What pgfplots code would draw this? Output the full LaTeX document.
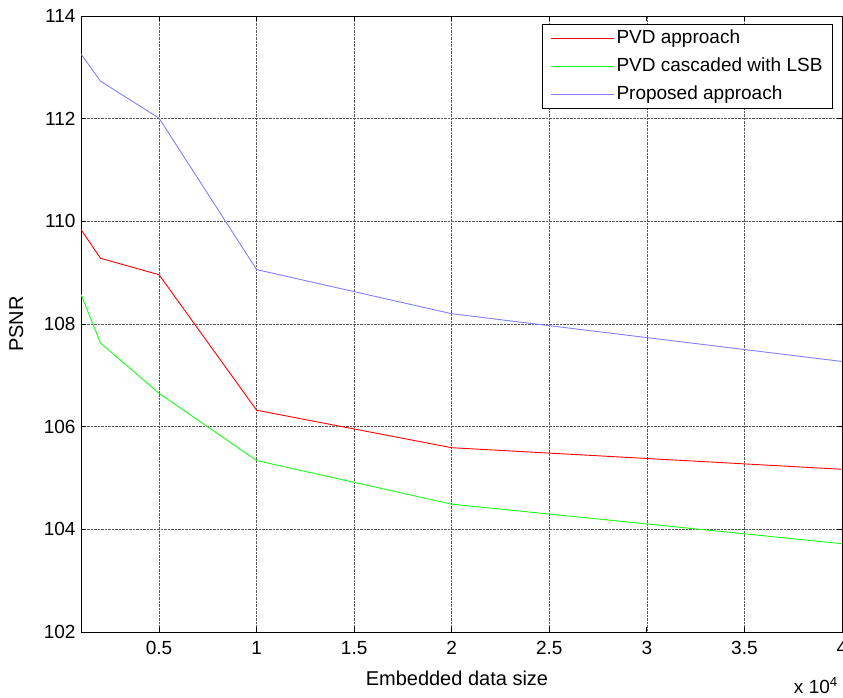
\documentclass[border=0pt]{standalone}
\usepackage{fontspec}
\setmainfont{Liberation Sans}
\usepackage{pgfplots}
\pgfplotsset{compat=1.18}
\usetikzlibrary{calc}
\definecolor{mred}{rgb}{1,0,0}
\definecolor{mgreen}{rgb}{0.1,1,0.1}
\definecolor{mblue}{rgb}{0.5,0.5,1}

\begin{document}
\begin{tikzpicture}
\begin{axis}[
    scale only axis,
    width=761pt, height=616pt,
    xmin=1000, xmax=40000,
    ymin=102, ymax=114,
    xtick={5000,10000,15000,20000,25000,30000,35000,40000},
    xticklabels={0.5,1,1.5,2,2.5,3,3.5,4},
    ytick={102,104,...,114},
    scaled x ticks=false,
    /pgf/number format/assume math mode=true,
    font=\fontsize{19}{23}\selectfont,
    tick label style={font=\fontsize{19}{23}\selectfont},
    xticklabel style={yshift=-6pt},
    yticklabel style={xshift=-2pt},
    tick align=inside,
    major tick length=5pt,
    axis line style={line width=0.8pt},
    every tick/.style={black, line width=0.8pt},
    grid=major,
    grid style={densely dotted, black!65, line width=0.5pt},
    xlabel={Embedded data size},
    ylabel={PSNR},
    xlabel style={at={(axis description cs:0.494,0)}, anchor=center, yshift=-46pt, font=\fontsize{20}{24}\selectfont},
    ylabel style={at={(axis description cs:-0.085,0.5)}, anchor=center, font=\fontsize{20}{24}\selectfont},
    legend cell align=left,
    legend style={at={(axis description cs:0.988,0.987)}, anchor=north east,
        draw=black, line width=0.8pt, inner xsep=8pt, inner ysep=3pt,
        font=\fontsize{19}{23}\selectfont, row sep=6pt,
        nodes={inner sep=2pt, text height=14pt, text depth=4pt}},
    legend image code/.code={\draw[#1, line width=0.9pt] (0pt,0pt) -- (63pt,0pt);},
]
\addplot[mred, line width=0.9pt] coordinates {
    (1000,109.84) (2000,109.28) (5000,108.96) (10000,106.32) (20000,105.59) (40000,105.17)};
\addplot[mgreen, line width=0.9pt] coordinates {
    (1000,108.58) (2000,107.63) (5000,106.65) (10000,105.34) (20000,104.49) (40000,103.72)};
\addplot[mblue, line width=0.9pt] coordinates {
    (1000,113.26) (2000,112.73) (5000,112.01) (10000,109.06) (20000,108.20) (40000,107.27)};
\legend{PVD approach, PVD cascaded with LSB, Proposed approach}
\coordinate (sw) at (rel axis cs:0,0);
\coordinate (ne) at (rel axis cs:1,1);
\end{axis}
\node[anchor=base east, inner sep=0pt, font=\fontsize{19}{23}\selectfont] at ($(sw -| ne)+(-4pt,-61pt)$) {x 10\textsuperscript{4}};
\pgfresetboundingbox
\path ($(sw)+(-81pt,-65pt)$) rectangle ($(ne)+(1pt,16pt)$);
\end{tikzpicture}
\end{document}
